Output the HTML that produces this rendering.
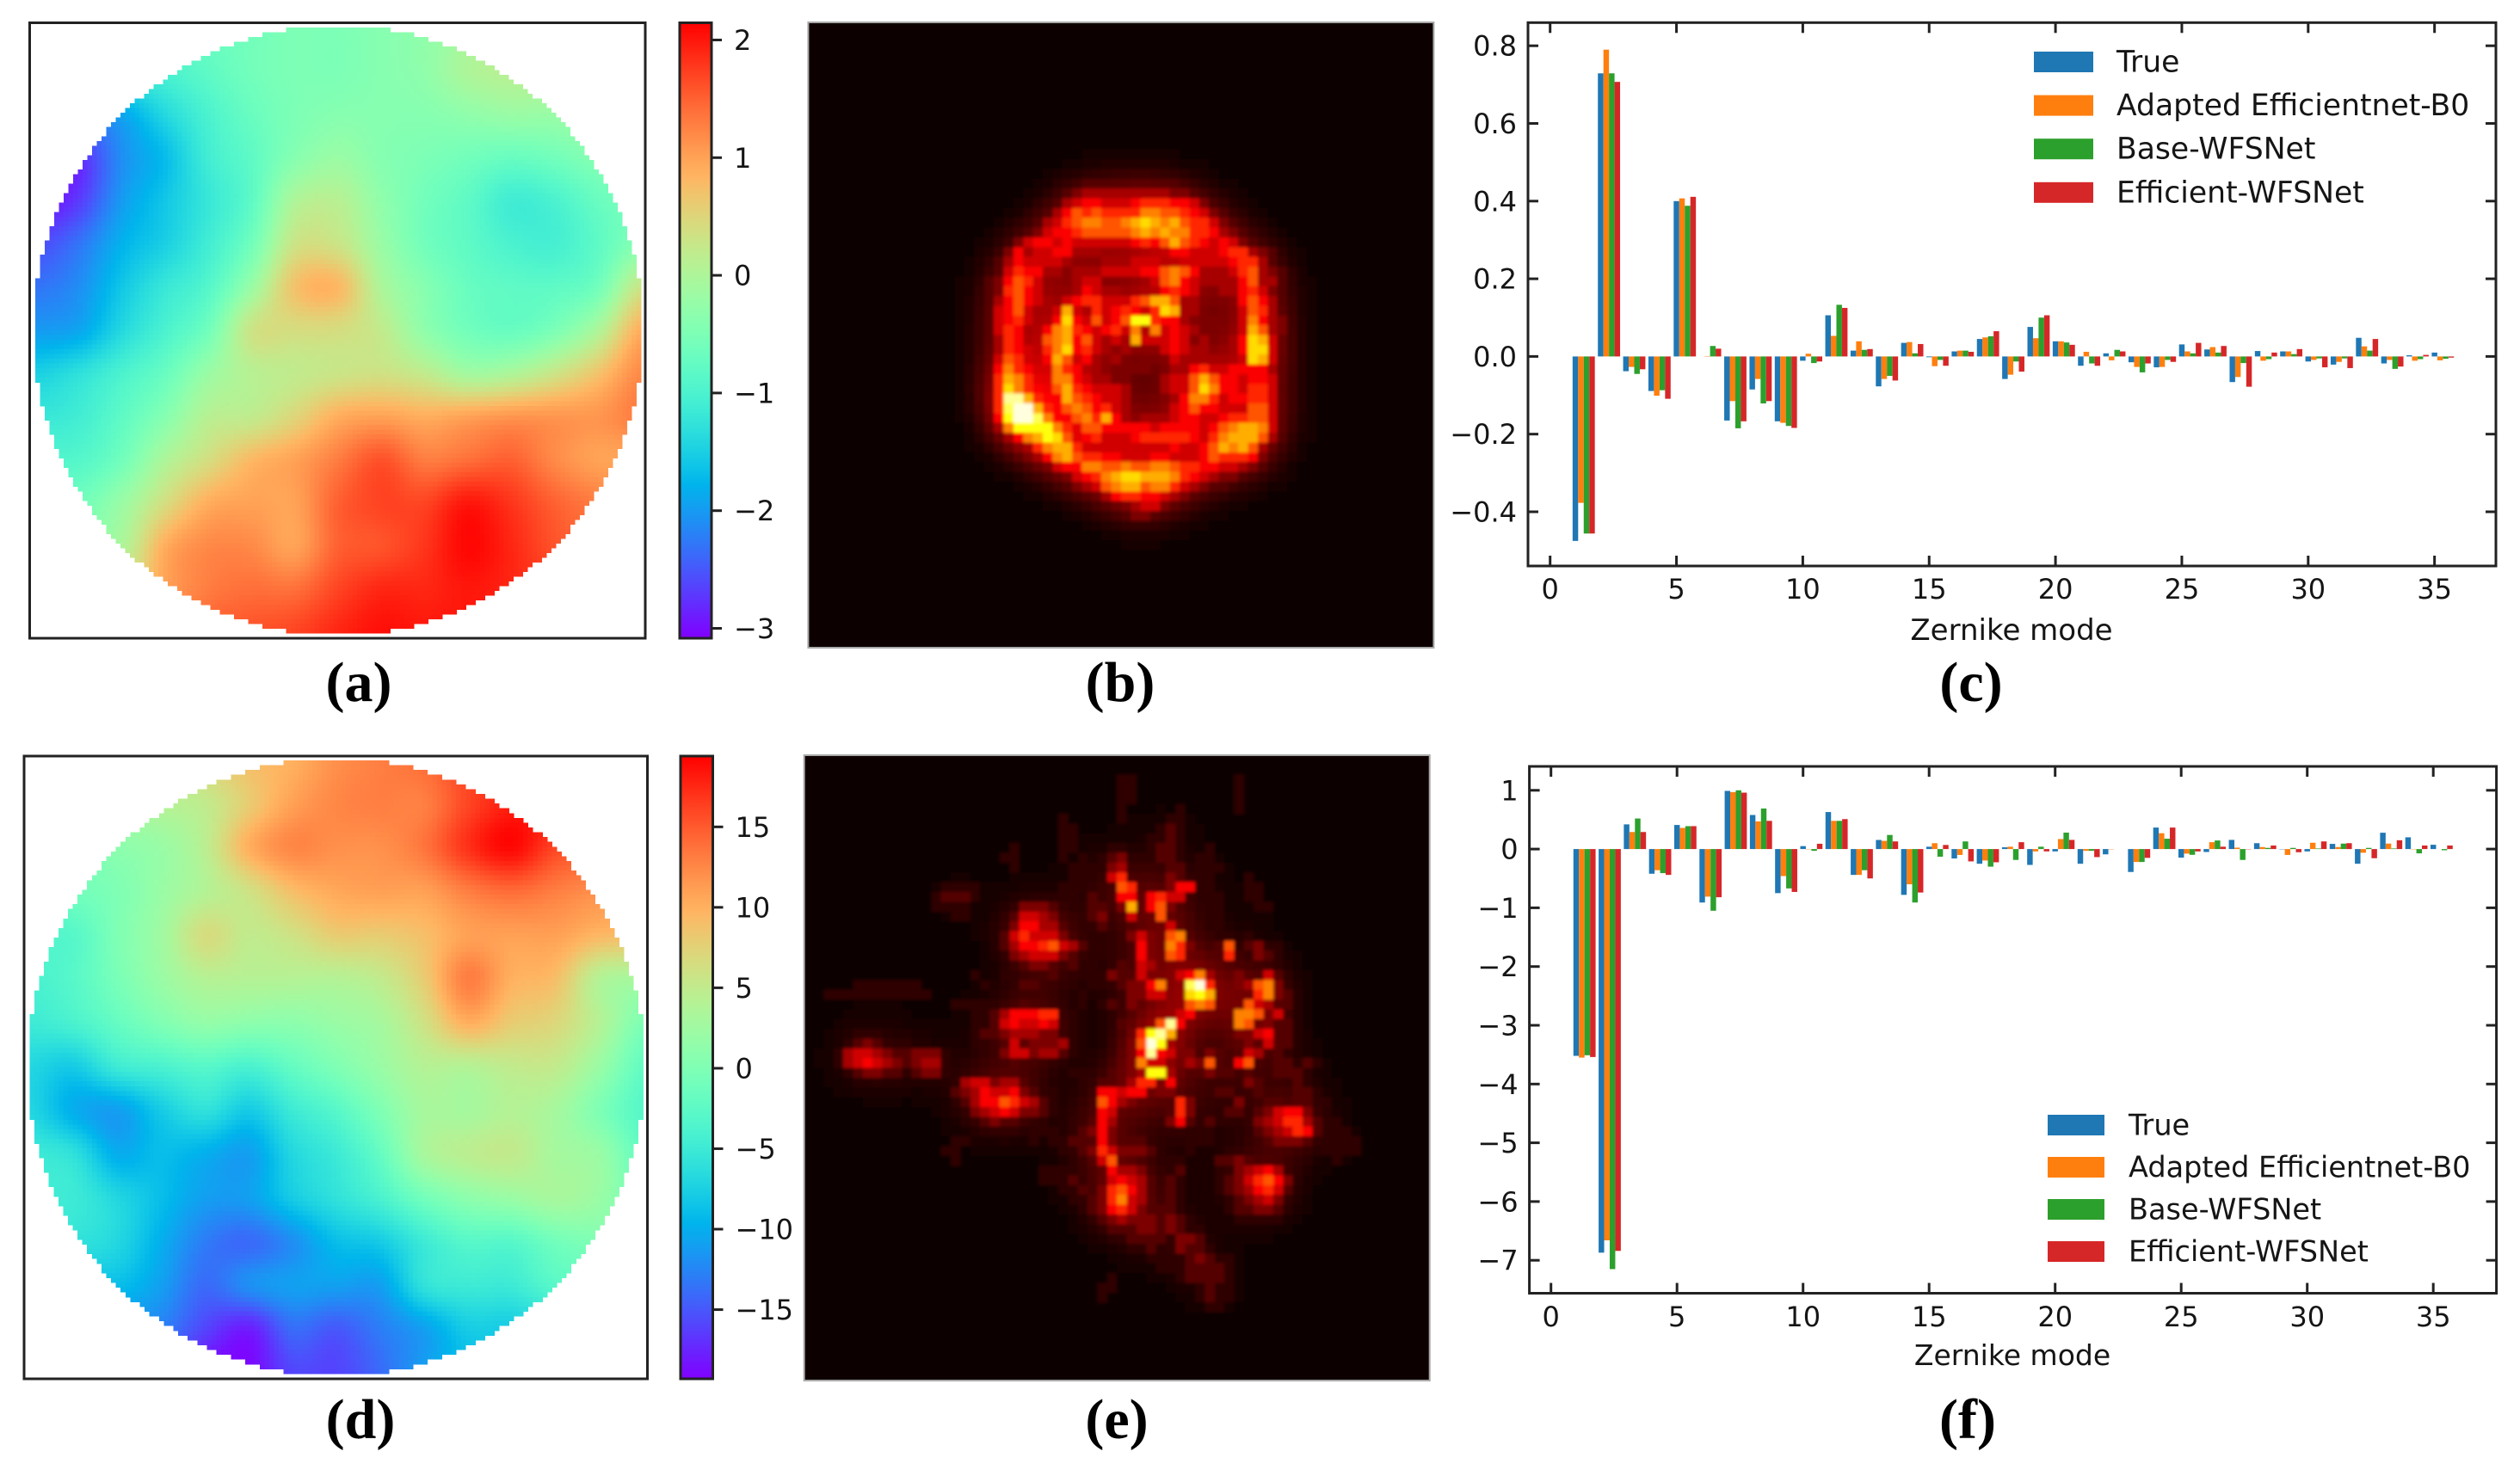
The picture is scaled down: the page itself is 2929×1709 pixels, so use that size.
<!DOCTYPE html>
<html lang="en">
<head>
<meta charset="utf-8">
<title>Wavefront, PSF and Zernike coefficient comparison</title>
<style>
html,body{margin:0;padding:0;background:#fff;width:2929px;height:1709px;overflow:hidden}
svg{display:block}
text{font-family:"DejaVu Sans","Liberation Sans",sans-serif;fill:#151515}
.cap{font-family:"Liberation Serif",serif;font-weight:bold;font-size:66px;fill:#000;text-anchor:middle}
</style>
</head>
<body>
<svg id="fig" xmlns="http://www.w3.org/2000/svg" width="2929" height="1709" viewBox="0 0 2929 1709">
  <defs>
    <filter id="soft" filterUnits="userSpaceOnUse" x="900" y="0" width="800" height="1700"><feGaussianBlur stdDeviation="1.8"/></filter>
    <clipPath id="clipB"><rect x="939.4" y="26" width="727" height="727"/></clipPath>
    <clipPath id="clipE"><rect x="934.7" y="878" width="727" height="727"/></clipPath>
  </defs>
  <rect width="2929" height="1709" fill="#fff"/>
  <g id="wfA"></g>
  <g id="wfD"></g>
  <g id="cbA"></g>
  <g id="cbD"></g>
  <g id="psfBG"></g>
  <g id="psfEG"></g>
  <g id="chartC"></g>
  <g id="chartF"></g>
  <text class="cap" x="417" y="815">(a)</text>
  <text class="cap" x="1302" y="815">(b)</text>
  <text class="cap" x="2291" y="815">(c)</text>
  <text class="cap" x="419" y="1672">(d)</text>
  <text class="cap" x="1298" y="1672">(e)</text>
  <text class="cap" x="2287" y="1672">(f)</text>
</svg>
<script>
/* ---------- data: bar charts ---------- */
const seriesLabels = ['True','Adapted Efficientnet-B0','Base-WFSNet','Efficient-WFSNet'];
const seriesColors = ['#1f77b4','#ff7f0e','#2ca02c','#d62728'];
const xTickValues = [0,5,10,15,20,25,30,35];
const yTicksC = [-0.4,-0.2,0,0.2,0.4,0.6,0.8];
const yTickLabelsC = ['\u22120.4','\u22120.2','0.0','0.2','0.4','0.6','0.8'];
const yTicksF = [-7,-6,-5,-4,-3,-2,-1,0,1];
const yTickLabelsF = ['\u22127','\u22126','\u22125','\u22124','\u22123','\u22122','\u22121','0','1'];

const trueC = [-.475,.729,-.038,-.089,.40,0,-.165,-.085,-.167,-.011,.106,.015,-.077,.035,-.002,.013,.045,-.058,.076,.039,-.024,.008,-.015,-.028,.031,.018,-.066,.014,.013,-.013,-.021,.048,-.018,.003,.01];
const adaptedC = [-.377,.79,-.027,-.101,.407,.001,-.115,-.058,-.171,.007,.053,.039,-.058,.037,-.025,.015,.049,-.047,.047,.039,.012,-.01,-.027,-.027,.013,.024,-.053,-.011,.013,-.009,-.014,.026,-.009,-.011,-.01];
const baseC = [-.456,.729,-.045,-.087,.388,.027,-.185,-.121,-.179,-.017,.133,.017,-.05,.008,-.009,.015,.052,-.013,.10,.036,-.018,.017,-.041,-.009,.008,.01,-.017,-.007,.006,-.005,-.005,.015,-.032,-.007,-.006];
const efficientC = [-.456,.707,-.033,-.109,.411,.02,-.167,-.115,-.184,-.013,.125,.019,-.062,.032,-.024,.012,.065,-.039,.106,.03,-.024,.013,-.018,-.014,.035,.027,-.078,.01,.019,-.028,-.03,.045,-.026,.004,-.003];

const trueF = [-3.52,-6.87,.42,-.42,.41,-.91,.99,.58,-.75,.05,.63,-.44,.155,-.78,.04,-.16,-.25,.03,-.27,-.04,-.25,-.09,-.39,.366,-.146,-.05,.156,.10,-.005,-.04,.088,-.25,.278,.2,.073];
const adaptedF = [-3.55,-6.66,.29,-.36,.36,-.81,.97,.47,-.46,-.005,.48,-.44,.14,-.6,.1,-.1,-.195,.04,-.04,.17,-.03,-.005,-.22,.27,-.078,.117,.024,.034,-.10,.107,.034,-.063,.093,-.005,0];
const baseF = [-3.51,-7.15,.52,-.41,.39,-1.05,1.0,.69,-.67,-.03,.48,-.36,.24,-.91,-.13,.13,-.30,-.185,.04,.28,-.03,0,-.22,.176,-.098,.146,-.185,.02,.02,.01,.093,.02,.01,-.073,-.02];
const efficientF = [-3.54,-6.84,.29,-.44,.39,-.82,.96,.48,-.73,.09,.51,-.5,.13,-.74,.07,-.21,-.225,.117,-.04,.156,-.137,0,-.15,.366,-.04,.04,-.005,.06,-.054,.13,.10,-.156,.15,.06,.06];

const wavefrontA = [
[-.8,-.8,-.8,-.8,-.7,-.6,-.5,-.5,-.4,-.3,-.1,0,0,0,0],
[-1.2,-1.2,-1.1,-1,-.8,-.6,-.5,-.5,-.4,-.3,0,.1,.1,0,0],
[-2.2,-2.2,-1.9,-1.4,-1,-.7,-.5,-.4,-.4,-.4,-.3,-.2,-.2,-.1,0],
[-3,-2.8,-2.1,-1.7,-1.1,-.8,-.4,-.2,-.4,-.5,-.6,-.7,-.6,-.4,-.3],
[-3,-2.7,-2,-1.6,-1.2,-.8,0,.1,-.3,-.6,-.8,-1.1,-1,-.7,-.5],
[-2.6,-2.3,-1.8,-1.5,-1.1,-.6,.3,.3,-.2,-.6,-.8,-1,-1.05,-.8,-.4],
[-2.3,-2.1,-1.6,-1.2,-.9,-.2,.7,.8,0,-.4,-.7,-.8,-.8,-.6,.3],
[-2,-1.9,-1.4,-1,-.6,.3,.4,.4,.2,-.3,-.6,-.7,-.5,0,.9],
[-1.5,-1.3,-1,-.7,-.2,.1,.2,.3,.35,.2,-.1,0,.3,.7,1.2],
[-1.2,-1.1,-.8,-.4,.1,.2,.5,.9,1,.9,1,1.1,1.1,1.1,1.3],
[-.9,-.9,-.6,0,.4,.8,1,1.3,1.6,1.3,1.4,1.5,1.2,1,1],
[-.6,-.6,-.2,.4,.9,1,1,1.5,1.7,1.7,2,1.8,1.5,1.3,1.2],
[-.3,-.3,0,.9,1.2,1.2,1,1.5,1.6,1.8,2.1,1.9,1.6,1.4,1.3],
[0,0,.3,1,1.3,1.4,1.4,1.7,1.9,1.9,2,1.9,1.7,1.5,1.4],
[.5,.5,.7,1.2,1.5,1.6,1.7,1.9,2.05,2,2,1.9,1.7,1.5,1.4]];
const wavefrontD = [
[4,4,4,5,7,9,10,12,13,14,16,17,17,17,17],
[3,3,3,4,5,8,11,12.5,13,13,16,18,18,18,18],
[0,0,1,2,4.5,10,12.5,12,12,13.5,17,19,16,15,15],
[-2,-1,0,2,4,6,9,10.5,11,11,13,14,13,12,12],
[-3,-3,0,2.5,6.5,5,6,8,8,9,11,11,11,9.5,9],
[-4,-3,-.5,2,4,4,4,4,5,8,13,10,9,4,3],
[-5,-4,-2,0,1.5,1,1,2,3,6,10,8,7,4,0],
[-7,-8,-5,-4,-3,-4,-2,0,2,4,4,5,5,2,-2],
[-7,-10,-11,-8,-6,-8,-5,-3,0,3,3,4,3,0,-3],
[-5,-6,-10,-9,-10,-11,-7,-5,-2,3,4.5,5,3,2,-2],
[-5,-5,-7,-9,-11,-11,-8,-6,-4,-1,1,2,3,2,-1],
[-6,-6,-7,-10,-13,-14,-12,-9,-8,-5,-3,-3,-1,0,0],
[-9,-9,-9,-11,-14,-12,-11,-11,-11,-6,-5,-5,-3,-3,-3],
[-12,-12,-12,-13,-16,-18,-14,-15,-13,-11,-8,-8,-7,-7,-7],
[-14,-14,-15,-16,-19,-19,-16,-16,-14,-11,-9,-9,-9,-9,-9]];
const colorbarRangeA = [-3.084,2.146];
const colorbarRangeD = [-19.3,19.4];
const colorbarTicksA = [2,1,0,-1,-2,-3];
const colorbarTicksD = [15,10,5,0,-5,-10,-15];

/* ---------- data: PSF intensity, hex level 0-f per pixel, 64x64 ---------- */
const psfB = [
"","","","","","","","","","","","","","","",
"0000000000 0000000000 0000000011 1111111100",
"0000000000 0000000000 0000001122 2222222211",
"0000000000 0000000000 0000012344 4444444332 1000000000",
"0000000000 0000000000 0000124566 5556777665 3110000000",
"0000000000 0000000000 0001246878 7777998876 5321000000",
"0000000000 0000000000 0012457899 889aba9a87 7532100000",
"0000000000 0000000000 0123566788 8889a9a997 7643210000",
"0000000000 0000000000 1356656555 5556768a87 6565321000",
"0000000000 0000000001 3645566444 3322334665 5567743210",
"0000000000 0000000012 4655554333 4445554455 5556774210",
"0000000000 0000000012 5766443444 5555668986 4445784321",
"0000000000 0000000123 6875333455 3322258965 4444684421",
"0000000000 0000000123 7865333465 4432346765 3344675321",
"0000000000 0000000124 6865425677 55578aa844 3323686421",
"0000000000 0000000125 685445a547 567657ba44 2212587421",
"0000000000 0000000125 675346b658 568cc76643 3322596431",
"0000000000 0000000125 764369a765 6759495654 333 35a8431",
"0000000000 0000000124 764389a685 454a555653 4334 6ba521",
"0000000000 0000000124 765379b675 4343235654 43346bb521",
"0000000000 0000000125 87546a8564 3432333544 44445ba521",
"0000000000 0000000126 9765597644 3333323446 7556666421",
"0000000000 0000000127 a975599654 4332224558 a866566521",
"0000000000 0000000127 b97658a765 5542224558 b966577521",
"0000000000 0000000127 eea766a876 5542222469 9756677521",
"0000000000 0000000127 dffa768986 7542233568 6655588521",
"0000000000 0000000116 cffd966897 a643444566 5567788521",
"0000000000 0000000014 9cccc97588 6666656666 5689aa9521",
"0000000000 0000000002 469acb8567 5556777776 579aaa8421",
"0000000000 0000000000 23479aa755 5555555655 68a9a84210",
"0000000000 0000000000 0234 69a877 6655566555 6877763110",
"0000000000 0000000000 0012356699 8898899877 6655432100",
"0000000000 0000000000 0000123567 9abbaaa976 5433210000",
"0000000000 0000000000 0000012345 89aa899754 3221000000",
"0000000000 0000000000 0000000122 4677665432 1000000000",
"0000000000 0000000000 0000000000 0234553211",
"0000000000 0000000000 0000000000 0123321000",
"0000000000 0000000000 0000000000 0011110000"
];
const psfE = [
"","",
"0000000000 0000000000 0000000000 0011000000 0000100000",
"0000000000 0000000000 0000000000 0011000000 0000100000",
"0000000000 0000000000 0000000000 0011000000 0000100000",
"0000000000 0000000000 0000000000 0010000010 0000100000",
"0000000000 0000000000 0000001000 0010000110",
"0000000000 0000000000 0000001100 0000001210",
"0000000000 0000000000 0000001100 0000011210",
"0000000000 0000000000 0100001100 0110012210 0100000000",
"0000000000 0000000000 1100001010 1230012210 1100000000",
"0000000000 0000000000 0100000111 1340111220 1110000000",
"0000000000 0000000000 0000000111 1570100320 1100010000",
"0000000000 0000111100 0000001111 0187111366 1100011000",
"0000000000 0001222100 0000001102 1066167550 1110011000",
"0000000000 0001111000 0133321012 213a168310 0110001100",
"0000000000 0000011000 1255431012 3015128210 0110000000",
"0000000000 0000000000 1366442101 2012122521 1010000000",
"0000000000 0000000000 2575553101 1013532892 1011010000",
"0000000000 0000000000 2466785421 1101632973 1128123110",
"0000000000 0000000000 1345553211 1010632871 1127113210",
"0000000000 0000000000 0123321211 0121542210 2111110000",
"0000000000 0000000100 1101121011 1322533156 9422321520",
"0000011111 1100000010 0122110101 112336923d f721348931",
"0011111111 1110000000 0011101010 011335522b ca31127932",
"0000000000 0000011111 1121111010 1213223118 9821285422",
"0000000000 0000000112 4666771100 0111221356 3111998351",
"0000000000 0000000112 5655651100 0122328e63 1011982312",
"0000011100 0000000122 3444331100 01127cea21 0011335622",
"0000123211 1000000111 2523334100 01138fc411 1112232522",
"0001455432 2333100011 3553442100 01136e6513 1321254121",
"0001456543 2344100011 1211110000 1113955214 3821681122 1210000000",
"0000123322 1233100011 0011000111 12234cc412 2322121122 2100000000",
"0000000000 0000014553 4421000011 2124773610 1111132111 2100000000",
"0000000000 0000023465 5632110001 6656623311 1122112111 2210000000",
"0000000000 0000012466 8754210011 8643201273 1101311221 2211000000",
"0000000000 0000001345 6533210011 6522211273 1112212356 6310000000",
"0000000000 0000000123 2211100012 6411111362 1211113457 7421100000",
"0000000000 0000000010 0001110123 6311111111 1100012345 7621110000",
"0000000000 0000011000 0001011222 6322211001 1100011233 3211111000",
"0000000000 0000110000 0000001123 7533321001 0001100110 1101111000",
"0000000000 0000010000 0000000012 5811110110 0022320000 0000100000",
"0000000000 0000000000 0000111100 2644311120 0011345641",
"0000000000 0000000000 0000111200 2565421210 0012357863",
"0000000000 0000000000 0000001120 3786421210 0012346752",
"0000000000 0000000000 0000000112 3795421210 0001234531",
"0000000000 0000000000 0000000012 3675322210 0001223320",
"0000000000 0000000000 0000000001 2343332321 0000111110",
"0000000000 0000000000 0000000000 1222332321 1000000000",
"0000000000 0000000000 0000000000 0112222033 2000000000",
"0000000000 0000000000 0000000000 0001121032 2100000000",
"0000000000 0000000000 0000000000 0000011112 3211000000",
"0000000000 0000000000 0000000000 0000001112 2221000000",
"0000000000 0000000000 0000000000 0100000012 2221000000",
"0000000000 0000000000 0000000000 1100000000 1211000000",
"0000000000 0000000000 0000000000 1000000000 1211000000",
"0000000000 0000000000 0000000000 0000000000 0110000000"
];

/* ---------- helpers ---------- */
const NS = 'http://www.w3.org/2000/svg';
function mk(tag, attrs, parent, txt){
  const el = document.createElementNS(NS, tag);
  for (const k in attrs) el.setAttribute(k, attrs[k]);
  if (txt !== undefined) el.textContent = txt;
  parent.appendChild(el);
  return el;
}
const clamp = v => Math.max(0, Math.min(1, v));
function rainbow(x){
  x = clamp(x);
  const r = clamp(Math.abs(2*x - 0.5)), g = clamp(Math.sin(Math.PI*x)), b = clamp(Math.cos(Math.PI*x/2));
  return 'rgb(' + Math.round(r*255) + ',' + Math.round(g*255) + ',' + Math.round(b*255) + ')';
}
function hot(x){
  x = clamp(x);
  const r = clamp(0.0416 + x/0.365*0.9584), g = clamp((x-0.365)/0.381), b = clamp((x-0.746)/0.254);
  return 'rgb(' + Math.round(r*255) + ',' + Math.round(g*255) + ',' + Math.round(b*255) + ')';
}
function catmull(p0,p1,p2,p3,t){
  return 0.5*((2*p1)+(-p0+p2)*t+(2*p0-5*p1+4*p2-p3)*t*t+(-p0+3*p1-3*p2+p3)*t*t*t);
}
function sampleGrid(g,u,v){
  const n = g.length, m = g[0].length;
  const iy = Math.floor(v), ix = Math.floor(u), ty = v-iy, tx = u-ix;
  const col = [];
  for (let j=-1;j<=2;j++){
    const row = g[Math.max(0,Math.min(n-1,iy+j))];
    const q = i => row[Math.max(0,Math.min(m-1,ix+i))];
    col.push(catmull(q(-1),q(0),q(1),q(2),tx));
  }
  return catmull(col[0],col[1],col[2],col[3],ty);
}

/* ---------- wavefront map ---------- */
function drawWavefront(parent, grid, range, x0, y0, size, boxX, boxY, boxW, boxH){
  const N = 128, cell = size/N, R = 64.5;
  const s = (range[1]-range[0]);
  const scaleU = (grid[0].length-1)/N, scaleV = (grid.length-1)/N;
  for (let r=0;r<N;r++){
    for (let c=0;c<N;c++){
      const dx = c+0.5-64, dy = r+0.5-64;
      if (dx*dx+dy*dy > R*R) continue;
      const val = sampleGrid(grid,(c+0.5)*scaleU,(r+0.5)*scaleV);
      const rc = mk('rect',{x:(x0+c*cell).toFixed(2),y:(y0+r*cell).toFixed(2),width:(cell+0.4).toFixed(2),height:(cell+0.4).toFixed(2),fill:rainbow((val-range[0])/s),'shape-rendering':'crispEdges'},parent);
      
      
    }
  }
  const frame = mk('rect',{x:boxX,y:boxY,width:boxW,height:boxH,fill:'none',stroke:'#222','stroke-width':3},parent);
  
  
}

/* ---------- colorbar ---------- */
function drawColorbar(parent, id, range, ticks, x, y, w, h){
  const cbY = v => y + (range[1]-v)/(range[1]-range[0])*h;
  const defs = mk('defs',{},parent);
  const grad = mk('linearGradient',{id:id,x1:0,y1:1,x2:0,y2:0},defs);
  for (let i=0;i<=40;i++){
    mk('stop',{offset:(i/40).toFixed(3),'stop-color':rainbow(i/40)},grad);
  }
  const bar = mk('rect',{x:x,y:y,width:w,height:h,fill:'url(#'+id+')',stroke:'#222','stroke-width':3},parent);
  
  
  ticks.forEach(t => {
    const yy = cbY(t);
    const tick = mk('line',{x1:x+w,x2:x+w+12,y1:yy,y2:yy,stroke:'#222','stroke-width':3},parent);
    
    
    const lab = mk('text',{x:x+w+26,y:yy+11.5,'font-size':32},parent,String(t).replace('-','\u2212'));
    
    
  });
}

/* ---------- PSF image: camera pixels plus the soft optical bloom of their neighbours ---------- */
function smoothLevels(g, radius, passes){
  const N = g.length;
  let cur = g.map(r => r.slice());
  for (let p=0;p<passes;p++){
    const next = cur.map(r => r.slice());
    for (let r=0;r<N;r++) for (let c=0;c<N;c++){
      let sum = 0, n = 0;
      for (let d=-radius;d<=radius;d++){
        const cc = c+d;
        if (cc>=0 && cc<N){ sum += cur[r][cc]; n++; }
      }
      next[r][c] = sum/n;
    }
    const out = next.map(r => r.slice());
    for (let r=0;r<N;r++) for (let c=0;c<N;c++){
      let sum = 0, n = 0;
      for (let d=-radius;d<=radius;d++){
        const rr = r+d;
        if (rr>=0 && rr<N){ sum += next[rr][c]; n++; }
      }
      out[r][c] = sum/n;
    }
    cur = out;
  }
  return cur;
}
function drawPsf(parent, rows, x0, y0, size, clipId){
  const N = 64, cell = size/N;
  const levels = [];
  for (let r=0;r<N;r++){
    const raw = (rows[r] || '').replace(/ /g,'');
    const line = [];
    for (let c=0;c<N;c++){
      line.push(c < raw.length ? parseInt(raw[c],16) : 0);
    }
    levels.push(line);
  }
  const bloom = smoothLevels(levels, 2, 2);
  const clipped = mk('g',{'clip-path':'url(#'+clipId+')'},parent);
  
  
  const inner = mk('g',{filter:'url(#soft)'},clipped);
  
  
  const bg = mk('rect',{x:x0-10,y:y0-10,width:size+20,height:size+20,fill:hot(0)},inner);
  
  
  for (let r=0;r<N;r++){
    for (let c=0;c<N;c++){
      const lv = Math.max(levels[r][c]*0.97, bloom[r][c]*0.72);
      if (lv < 0.08) continue;
      const px = mk('rect',{x:(x0+c*cell).toFixed(2),y:(y0+r*cell).toFixed(2),width:(cell+0.3).toFixed(2),height:(cell+0.3).toFixed(2),fill:hot(Math.pow(lv/15,1.08)),'shape-rendering':'crispEdges'},inner);
      
      
    }
  }
  const frame = mk('rect',{x:x0,y:y0,width:size,height:size,fill:'none',stroke:'#a8a8a8','stroke-width':2},parent);
  
  
}

/* ---------- bar chart ---------- */
function drawBarChart(parent, L, series, yTicks, yLabels){
  const xScale = v => L.x0 + v*L.xUnit;
  const yScale = v => L.y0 - v*L.yUnit;
  const barW = 0.22*L.xUnit;
  series.forEach((vals,s) => {
    vals.forEach((v,i) => {
      const mode = i+1;
      const cx = xScale(mode + 0.22*s);
      const y1 = yScale(v), y2 = yScale(0);
      const bar = mk('rect',{x:(cx-barW/2).toFixed(2),y:Math.min(y1,y2).toFixed(2),width:barW.toFixed(2),height:Math.abs(y2-y1).toFixed(2),fill:seriesColors[s]},parent);
      
      
    });
  });
  const frame = mk('rect',{x:L.left,y:L.top,width:L.right-L.left,height:L.bottom-L.top,fill:'none',stroke:'#222','stroke-width':3},parent);
  
  
  xTickValues.forEach(t => {
    const xx = xScale(t);
    [[L.bottom,L.bottom-12],[L.top,L.top+12]].forEach(p => {
      const tk = mk('line',{x1:xx,x2:xx,y1:p[0],y2:p[1],stroke:'#222','stroke-width':3},parent);
      
      
    });
    const lab = mk('text',{x:xx,y:L.xLabelY,'font-size':32,'text-anchor':'middle'},parent,String(t));
    
    
  });
  yTicks.forEach((t,i) => {
    const yy = yScale(t);
    [[L.left,L.left+12],[L.right,L.right-12]].forEach(p => {
      const tk = mk('line',{x1:p[0],x2:p[1],y1:yy,y2:yy,stroke:'#222','stroke-width':3},parent);
      
      
    });
    const lab = mk('text',{x:L.left-13,y:yy+11.5,'font-size':32,'text-anchor':'end'},parent,yLabels[i]);
    
    
  });
  const xt = mk('text',{x:L.titleX,y:L.titleY,'font-size':L.titleSize,'text-anchor':'middle'},parent,'Zernike mode');
  
  
  seriesLabels.forEach((name,i) => {
    const cy = L.legY + i*L.legStep;
    const h = mk('rect',{x:L.legX,y:cy-12,width:L.legW,height:24,fill:seriesColors[i]},parent);
    
    
    const t = mk('text',{x:L.legTextX,y:cy+11.5,'font-size':L.legSize},parent,name);
    
    
  });
}

/* ---------- render ---------- */
drawWavefront(document.getElementById('wfA'), wavefrontA, colorbarRangeA, 41, 32, 704, 34.5, 26.5, 715.5, 715.5);
drawWavefront(document.getElementById('wfD'), wavefrontD, colorbarRangeD, 34.4, 884, 713, 28, 879, 724.5, 724);
drawColorbar(document.getElementById('cbA'), 'gradA', colorbarRangeA, colorbarTicksA, 790, 26.5, 37, 715.5);
drawColorbar(document.getElementById('cbD'), 'gradD', colorbarRangeD, colorbarTicksD, 791, 879, 37.5, 724);
drawPsf(document.getElementById('psfBG'), psfB, 939.4, 26, 727, 'clipB');
drawPsf(document.getElementById('psfEG'), psfE, 934.7, 878, 727, 'clipE');
drawBarChart(document.getElementById('chartC'),
  {left:1776,right:2901,top:26.3,bottom:658,x0:1801.7,xUnit:29.37,y0:414.4,yUnit:451.5,xLabelY:696,titleX:2338,titleY:744,titleSize:34,legX:2364,legW:69,legTextX:2460,legY:72,legStep:50.6,legSize:34.6},
  [trueC,adaptedC,baseC,efficientC], yTicksC, yTickLabelsC);
drawBarChart(document.getElementById('chartF'),
  {left:1777.6,right:2901.6,top:891,bottom:1503.5,x0:1802.7,xUnit:29.3,y0:987.1,yUnit:68.3,xLabelY:1542,titleX:2339,titleY:1587,titleSize:33,legX:2380,legW:66,legTextX:2474,legY:1308,legStep:49,legSize:33.5},
  [trueF,adaptedF,baseF,efficientF], yTicksF, yTickLabelsF);
</script>
</body>
</html>
